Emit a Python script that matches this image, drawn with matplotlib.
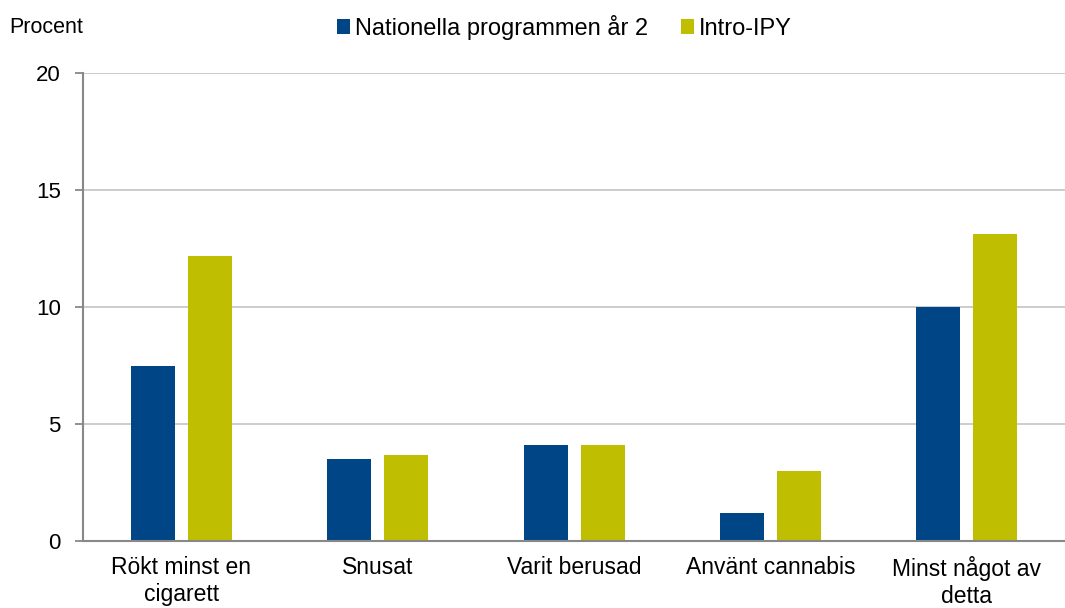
import matplotlib
matplotlib.use('Agg')
import matplotlib.pyplot as plt
import numpy as np

plt.rcParams['font.family'] = ['Liberation Sans', 'DejaVu Sans']

categories = ['Rökt minst en\ncigarett', 'Snusat', 'Varit berusad',
              'Använt cannabis', 'Minst något av\ndetta']
series_names = ['Nationella programmen år 2', 'Intro-IPY']
nationella = [7.5, 3.5, 4.1, 1.2, 10.0]
intro_ipy = [12.2, 3.7, 4.1, 3.0, 13.1]
colors = ['#004687', '#BFBE00']

fig = plt.figure(figsize=(10.65, 6.08), dpi=100)
ax = fig.add_axes([0.078, 0.110, 0.922, 0.770])

x = np.arange(len(categories))
w = 0.224
off = 0.145
ax.bar(x - off, nationella, width=w, color=colors[0], label=series_names[0], zorder=3)
ax.bar(x + off, intro_ipy, width=w, color=colors[1], label=series_names[1], zorder=3)

ax.set_xlim(-0.5, len(categories) - 0.5)
ax.set_ylim(0, 20)
ax.set_yticks([0, 5, 10, 15, 20])
ax.yaxis.grid(True, color='#c8c8c8', linewidth=1.3, zorder=0)
ax.set_xticks(x)
ax.set_xticklabels(categories, fontsize=16.5, linespacing=1.2)
ax.tick_params(axis='x', length=0, pad=11)
ax.tick_params(axis='y', labelsize=16, length=6, color='#888888', width=1.3, pad=10)

for s in ['top', 'right']:
    ax.spines[s].set_visible(False)
for s in ['left', 'bottom']:
    ax.spines[s].set_color('#888888')
    ax.spines[s].set_linewidth(1.5)
    ax.spines[s].set_zorder(4)

fig.text(0.009, 0.955, 'Procent', fontsize=15.5, va='center', ha='left')
fig.legend(loc='center', bbox_to_anchor=(0.530, 0.955), ncol=2, frameon=False,
           fontsize=17, handlelength=0.55, handleheight=0.55, handletextpad=0.2,
           columnspacing=1.4)

fig.savefig('out.png', dpi=100)
